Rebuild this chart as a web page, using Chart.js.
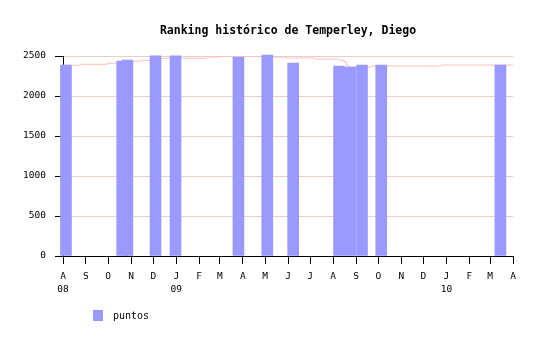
<!DOCTYPE html>
<html>
<head>
<meta charset="utf-8">
<script src="https://cdn.jsdelivr.net/npm/chart.js@4"></script>
<style>
  html,body{margin:0;padding:0;background:#fff;}
  #wrap{width:540px;height:340px;}
</style>
</head>
<body>
<div id="wrap"><canvas id="chart" width="540" height="340"></canvas></div>
<script>
// data
const chartTitle = 'Ranking histórico de Temperley, Diego';
const seriesLabel = 'puntos';
const barDates  = ['2008-08-05','2008-10-20','2008-10-27','2008-12-04','2008-12-31','2009-03-26','2009-05-04','2009-06-08','2009-08-09','2009-08-24','2009-09-09','2009-10-05','2010-03-15'];
const barPoints = [2387, 2437, 2450, 2503, 2503, 2487, 2512, 2412, 2375, 2362, 2387, 2387, 2387];
// thin pink step line behind the bars
const refDates  = ['2008-08-01','2008-08-24','2008-09-30','2008-10-27','2008-11-14','2008-12-07','2009-02-11','2009-03-01','2009-04-27','2009-05-30','2009-07-07','2009-08-10','2009-08-16','2009-08-19','2009-08-23','2009-09-22','2009-12-25','2010-04-01'];
const refPoints = [2384, 2396, 2409, 2434, 2446, 2471, 2487, 2497, 2487, 2475, 2462, 2446, 2425, 2375, 2362, 2375, 2387, 2387];
const monthLetters = ['A','S','O','N','D','J','F','M','A','M','J','J','A','S','O','N','D','J','F','M','A'];
const yearLabels   = ['08','','','','','09','','','','','','','','','','','','10','','',''];
const yTicks = [0, 500, 1000, 1500, 2000, 2500];

const START = Date.UTC(2008, 7, 1);
function dayOf(s){
  const p = s.split('-').map(Number);
  return (Date.UTC(p[0], p[1]-1, p[2]) - START) / 86400000;
}
const monthDays = monthLetters.map((m,i)=> (Date.UTC(2008, 7+i, 1) - START) / 86400000);
const lastDay = monthDays[monthDays.length-1];

const font = 'DejaVu Sans Mono';

// title centred over the plot area and legend placed where the original has them
const decorPlugin = {
  id: 'decor',
  afterDraw(chart){
    const ctx = chart.ctx;
    const a = chart.chartArea;
    const ds = chart.data.datasets[0];
    ctx.save();
    ctx.fillStyle = '#000';
    ctx.font = 'bold 11.5px "' + font + '"';
    ctx.textAlign = 'center';
    ctx.textBaseline = 'middle';
    ctx.fillText(chartTitle, (a.left + a.right) / 2, 31);

    ctx.fillStyle = ds.backgroundColor;
    ctx.fillRect(93, 310, 10, 11);
    ctx.fillStyle = '#000';
    ctx.font = '10px "' + font + '"';
    ctx.textAlign = 'left';
    ctx.fillText(ds.label, 113, 316);
    ctx.restore();
  }
};

new Chart(document.getElementById('chart'), {
  type: 'bar',
  data: {
    datasets: [
      {
        label: seriesLabel,
        data: barDates.map((d,i)=>({x: dayOf(d), y: barPoints[i]})),
        backgroundColor: '#9999ff',
        borderWidth: 0,
        barThickness: 11,
        clip: false,
        order: 1
      },
      {
        type: 'line',
        label: 'ref',
        data: refDates.map((d,i)=>({x: dayOf(d), y: refPoints[i]})),
        borderColor: '#ffc0c0',
        borderWidth: 1,
        pointRadius: 0,
        stepped: true,
        fill: false,
        order: 2
      }
    ]
  },
  options: {
    responsive: false,
    animation: false,
    layout: {padding: {left: 0, right: 27, top: 56, bottom: 0}},
    plugins: {
      legend: {display: false},
      tooltip: {enabled: false},
      title: {display: false}
    },
    scales: {
      x: {
        type: 'linear',
        min: 0,
        max: lastDay,
        offset: false,
        afterBuildTicks: s => { s.ticks = monthDays.map(v=>({value: v})); },
        afterFit: s => { s.height = 84; },
        grid: {offset: false, drawOnChartArea: false, tickLength: 8, tickColor: '#000'},
        border: {color: '#000'},
        ticks: {
          autoSkip: false,
          maxRotation: 0,
          color: '#000',
          padding: 6,
          font: {family: font, size: 9.5, lineHeight: 1.4},
          callback: (v, i) => [monthLetters[i], yearLabels[i]]
        }
      },
      y: {
        min: 0,
        max: 2500,
        afterBuildTicks: s => { s.ticks = yTicks.map(v=>({value: v})); },
        afterFit: s => { s.width = 63; },
        grid: {color: '#e8d0c8', tickColor: '#000', tickLength: 8},
        border: {color: '#000'},
        ticks: {
          color: '#000',
          padding: 9,
          font: {family: font, size: 9.5},
          callback: v => String(v)
        }
      }
    }
  },
  plugins: [decorPlugin]
});
</script>
</body>
</html>
